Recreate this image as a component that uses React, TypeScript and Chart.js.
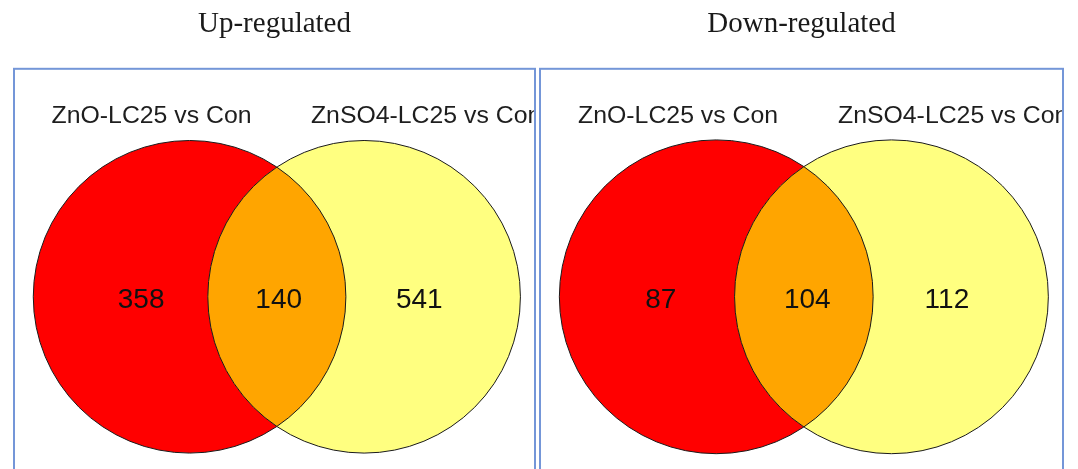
import React, { useEffect, useRef } from "react";
import { Chart, registerables } from "chart.js";

Chart.register(...registerables);

// ---- data ----
const panelTitles = ["Up-regulated", "Down-regulated"];
const setNames = ["ZnO-LC25 vs Con", "ZnSO4-LC25 vs Con"];
const upCounts = [358, 140, 541]; // only A, A∩B, only B
const downCounts = [87, 104, 112];

// ---- layout (data units of the 0..1 scales) ----
const circleCentersX = [0.337, 0.672];
const circleCenterY = 0.426;
const circleRadius = 0.3;
const countLabelX = [
  [0.244, 0.508, 0.778],
  [0.231, 0.511, 0.778],
];
const countLabelY = 0.416;
const nameLabelX = [
  [0.264, 0.791],
  [0.264, 0.79],
];
const nameLabelY = 0.88;

const RED = "#FF0000";
const ORANGE = "#FFA500";
const YELLOW = "#FFFF80";
const BOX = "#7496D8";
const CIRCLE_FILLS = [RED, YELLOW];

function makeConfig(panel: number, counts: number[]) {
  const vennPlugin = {
    id: "venn" + panel,
    beforeDatasetsDraw(chart: any) {
      const ctx = chart.ctx;
      const xs = chart.scales.x;
      const r = xs.getPixelForValue(circleRadius) - xs.getPixelForValue(0);
      const pts = [0, 1].map((i) => {
        const el = chart.getDatasetMeta(i).data[0];
        return { x: el.x, y: el.y };
      });
      const circle = (p: { x: number; y: number }) => {
        ctx.beginPath();
        ctx.arc(p.x, p.y, r, 0, Math.PI * 2);
      };
      ctx.save();
      pts.forEach((p, i) => {
        circle(p);
        ctx.fillStyle = CIRCLE_FILLS[i];
        ctx.fill();
      });
      ctx.save();
      circle(pts[0]);
      ctx.clip();
      circle(pts[1]);
      ctx.fillStyle = ORANGE;
      ctx.fill();
      ctx.restore();
      ctx.strokeStyle = "#1a1a1a";
      ctx.lineWidth = 1;
      pts.forEach((p) => {
        circle(p);
        ctx.stroke();
      });
      ctx.restore();
    },
    afterDraw(chart: any) {
      const ctx = chart.ctx;
      const xs = chart.scales.x;
      const ys = chart.scales.y;
      const area = chart.chartArea;
      ctx.save();
      ctx.beginPath();
      ctx.rect(area.left, area.top, area.right - area.left, area.bottom - area.top);
      ctx.clip();
      ctx.fillStyle = "#1e1e1e";
      ctx.textAlign = "center";
      ctx.textBaseline = "middle";
      ctx.font = '23px "Liberation Sans", Arial, sans-serif';
      setNames.forEach((n, i) => {
        ctx.save();
        ctx.translate(xs.getPixelForValue(nameLabelX[panel][i]), ys.getPixelForValue(nameLabelY));
        ctx.scale(1.079, 1);
        ctx.fillText(n, 0, 0);
        ctx.restore();
      });
      ctx.fillStyle = "#111111";
      ctx.font = '28px "Liberation Sans", Arial, sans-serif';
      counts.forEach((c, i) => {
        ctx.fillText(String(c), xs.getPixelForValue(countLabelX[panel][i]), ys.getPixelForValue(countLabelY));
      });
      ctx.restore();
      ctx.save();
      ctx.strokeStyle = BOX;
      ctx.lineWidth = 2;
      ctx.strokeRect(area.left, area.top, area.right - area.left, area.bottom - area.top + 4);
      ctx.restore();
    },
  };
  return {
    type: "bubble" as const,
    data: {
      datasets: [0, 1].map((i) => ({
        label: setNames[i],
        data: [{ x: circleCentersX[i], y: circleCenterY, r: 0 }],
        backgroundColor: CIRCLE_FILLS[i],
        borderWidth: 0,
        radius: 0,
      })),
    },
    options: {
      responsive: false,
      animation: false as const,
      events: [],
      layout: {
        padding: panel === 0 ? { left: 14, right: 4, bottom: 3, top: 0 } : { left: 1, right: 15, bottom: 3, top: 0 },
      },
      scales: {
        x: { type: "linear" as const, min: 0, max: 1, display: false },
        y: { type: "linear" as const, min: 0, max: 1, display: false },
      },
      plugins: {
        legend: { display: false },
        tooltip: { enabled: false },
        title: {
          display: true,
          text: panelTitles[panel],
          color: "#1a1a1a",
          font: { family: '"Liberation Serif", "Times New Roman", serif', size: 29, weight: "normal" as const },
          padding: { top: 7, bottom: 27 },
        },
      },
    },
    plugins: [vennPlugin],
  };
}

function Panel({ panel, counts }: { panel: number; counts: number[] }) {
  const ref = useRef<HTMLCanvasElement | null>(null);
  useEffect(() => {
    if (!ref.current) return;
    const chart = new Chart(ref.current, makeConfig(panel, counts) as any);
    return () => chart.destroy();
  }, [panel, counts]);
  return <canvas ref={ref} width={539} height={469} style={{ display: "block", width: 539, height: 469 }} />;
}

export default function App() {
  return (
    <div
      style={{
        position: "absolute",
        left: 0,
        top: 0,
        width: 1078,
        height: 469,
        display: "flex",
        background: "#ffffff",
        overflow: "hidden",
      }}
    >
      <Panel panel={0} counts={upCounts} />
      <Panel panel={1} counts={downCounts} />
    </div>
  );
}
